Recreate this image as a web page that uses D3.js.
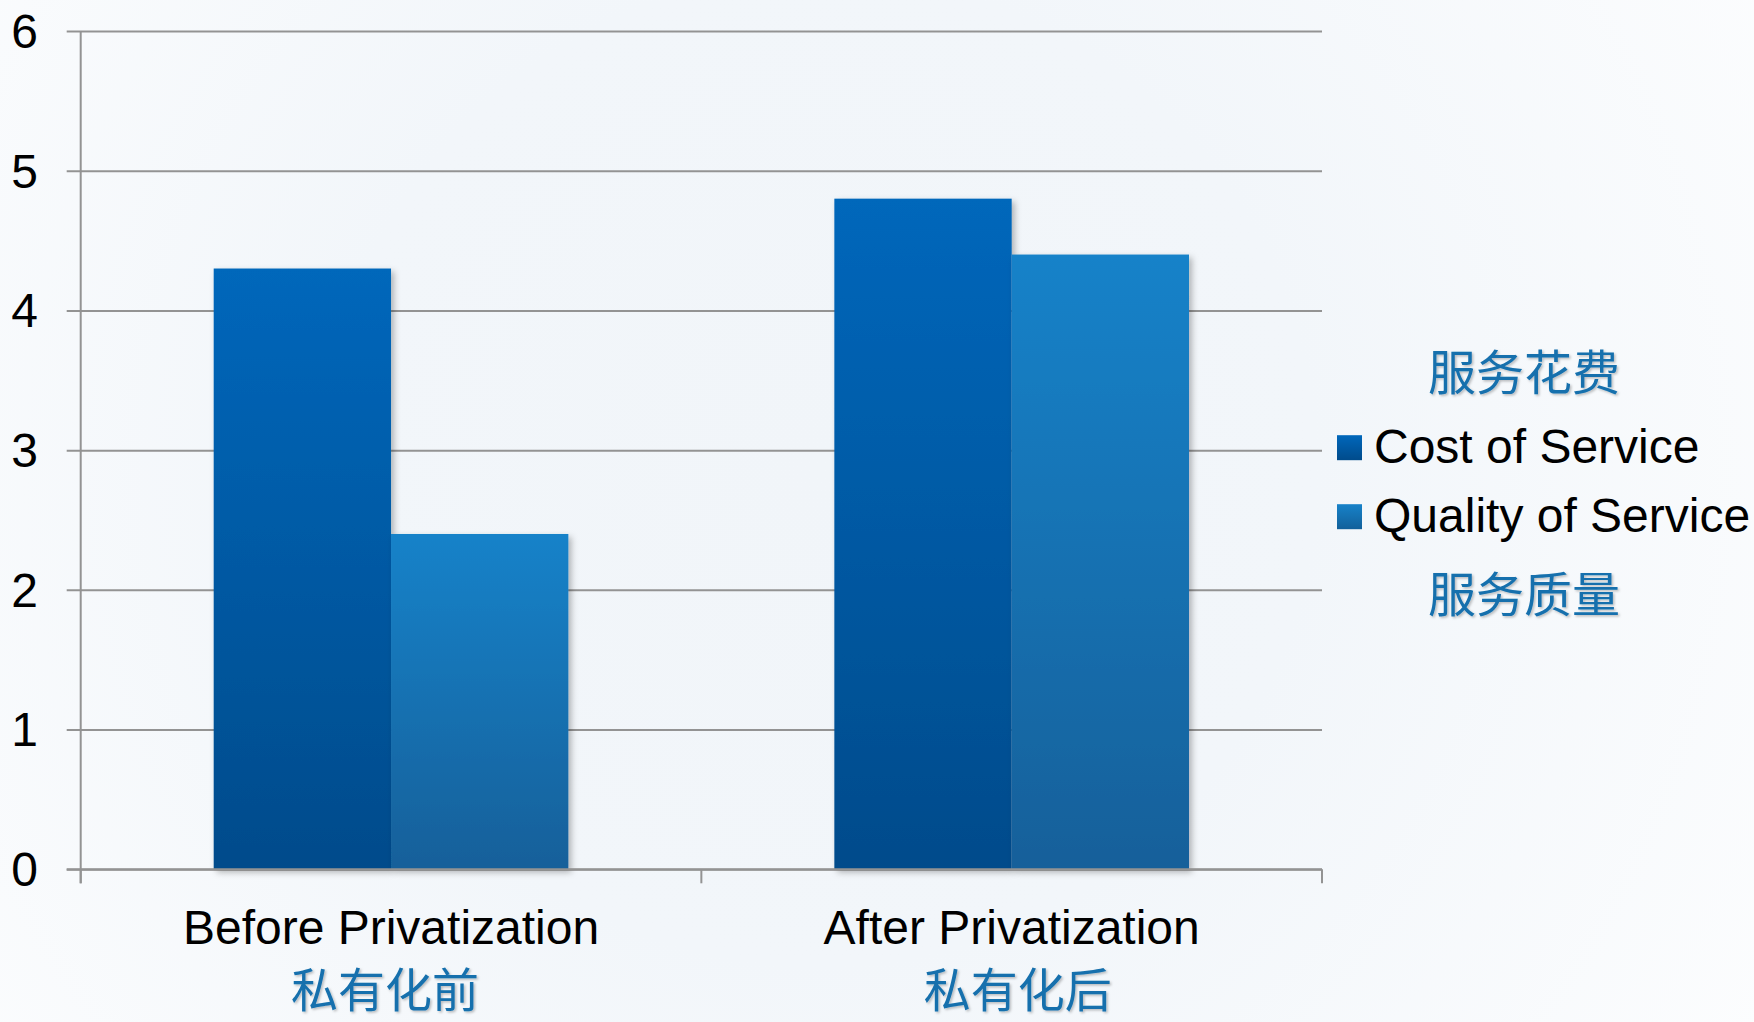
<!DOCTYPE html>
<html>
<head>
<meta charset="utf-8">
<script src="https://cdn.jsdelivr.net/npm/d3@7"></script>
<style>
  html, body { margin: 0; padding: 0; background: #f4f7fa; }
  svg { display: block; }
</style>
</head>
<body>
<svg id="chart" width="1754" height="1022"></svg>
<script>
// Chart data
const categories = ["Before Privatization", "After Privatization"];
const categoriesZh = ["私有化前", "私有化后"];
const seriesNames = ["Cost of Service", "Quality of Service"];
const seriesNamesZh = ["服务花费", "服务质量"];
const costValues = [4.3, 4.8];
const qualityValues = [2.4, 4.4];
const yTicks = [0, 1, 2, 3, 4, 5, 6];

const W = 1754, H = 1022;
const margin = { left: 80.7, right: 1322, top: 31, bottom: 869.3 };
const latin = "'Liberation Sans', Arial, Helvetica, sans-serif";
const cjk = "'Noto Sans CJK SC', 'Noto Sans CJK TC', sans-serif";
const zhColor = "#1670ad";
const gridColor = "#939393";

const svg = d3.select("#chart");
const defs = svg.append("defs");

// Soft slide background
const bg = defs.append("radialGradient").attr("id", "bg")
  .attr("gradientUnits", "userSpaceOnUse")
  .attr("cx", 820).attr("cy", 470).attr("r", 1100);
bg.append("stop").attr("offset", "0%").attr("stop-color", "#f1f5f9");
bg.append("stop").attr("offset", "45%").attr("stop-color", "#f2f6fa");
bg.append("stop").attr("offset", "100%").attr("stop-color", "#fcfdfe");
svg.append("rect").attr("width", W).attr("height", H).attr("fill", "url(#bg)");

// Vertical gradients for the two series
const gradSpecs = [
  { id: "g0", top: "#0067bb", bottom: "#004b8b" },
  { id: "g1", top: "#1782c9", bottom: "#12609a" }
];
gradSpecs.forEach(g => {
  const lg = defs.append("linearGradient").attr("id", g.id)
    .attr("x1", 0).attr("y1", 0).attr("x2", 0).attr("y2", 1);
  lg.append("stop").attr("offset", "0%").attr("stop-color", g.top);
  lg.append("stop").attr("offset", "100%").attr("stop-color", g.bottom);
});
const barFill = ["url(#g0)", "url(#g1)"];

// Bar drop shadow
const sh = defs.append("filter").attr("id", "shadow")
  .attr("x", "-10%").attr("y", "-10%").attr("width", "130%").attr("height", "130%");
sh.append("feDropShadow").attr("dx", 3).attr("dy", 3).attr("stdDeviation", 3)
  .attr("flood-color", "#000").attr("flood-opacity", 0.28);

// Text shadow for Chinese labels
const ts = defs.append("filter").attr("id", "tshadow")
  .attr("x", "-10%").attr("y", "-20%").attr("width", "130%").attr("height", "150%");
ts.append("feDropShadow").attr("dx", 1.5).attr("dy", 1.5).attr("stdDeviation", 1.2)
  .attr("flood-color", "#000").attr("flood-opacity", 0.25);

// Scales
const y = d3.scaleLinear().domain([0, 6]).range([margin.bottom, margin.top]);
const x0 = d3.scaleBand().domain(categories).range([margin.left, margin.right])
  .paddingInner(0).paddingOuter(0);
// gap width 150% of a bar: group occupies 2 of 3.5 bar widths
const gap = x0.bandwidth() * 0.75 / 3.5;
const x1 = d3.scaleBand().domain(seriesNames).range([gap, x0.bandwidth() - gap]);

// Gridlines + y ticks (axis with long ticks)
const yAxis = d3.axisLeft(y).tickValues(yTicks)
  .tickSize(-(margin.right - margin.left)).tickPadding(0).tickFormat("");
const gy = svg.append("g").attr("transform", `translate(${margin.left},0)`).call(yAxis);
gy.select(".domain").remove();
gy.selectAll(".tick line").attr("stroke", gridColor).attr("stroke-width", 2)
  .attr("x1", -14);

// Bars
const rows = categories.map((c, i) => ({ cat: c, vals: [costValues[i], qualityValues[i]] }));
const groups = svg.append("g").selectAll("g").data(rows).join("g")
  .attr("transform", d => `translate(${x0(d.cat)},0)`);
groups.selectAll("rect")
  .data(d => d.vals.map((v, k) => ({ v, k, s: seriesNames[k] })))
  .join("rect")
  .attr("x", d => x1(d.s))
  .attr("width", x1.bandwidth())
  .attr("y", d => y(d.v))
  .attr("height", d => y(0) - y(d.v))
  .attr("fill", d => barFill[d.k])
  .attr("filter", "url(#shadow)");

// Axis lines drawn over the bars
svg.append("line").attr("x1", margin.left).attr("x2", margin.left)
  .attr("y1", y(6)).attr("y2", y(0) + 14)
  .attr("stroke", gridColor).attr("stroke-width", 2);
svg.append("line").attr("x1", margin.left - 14).attr("x2", margin.right)
  .attr("y1", y(0)).attr("y2", y(0))
  .attr("stroke", gridColor).attr("stroke-width", 2.2);
const xTickPos = [margin.left].concat(categories.map(c => x0(c) + x0.bandwidth()));
svg.append("g").selectAll("line").data(xTickPos).join("line")
  .attr("x1", d => d).attr("x2", d => d)
  .attr("y1", y(0)).attr("y2", y(0) + 14)
  .attr("stroke", gridColor).attr("stroke-width", 2);

// Y tick labels
svg.append("g").selectAll("text").data(yTicks).join("text")
  .attr("x", 38).attr("y", d => y(d))
  .attr("dy", "0.35em")
  .attr("text-anchor", "end")
  .attr("font-family", latin).attr("font-size", 48).attr("fill", "#000")
  .text(d => d);

// Category labels
svg.append("g").selectAll("text").data(categories).join("text")
  .attr("x", d => x0(d) + x0.bandwidth() / 2)
  .attr("y", 944)
  .attr("text-anchor", "middle")
  .attr("font-family", latin).attr("font-size", 48).attr("fill", "#000")
  .text(d => d);

svg.append("g").selectAll("text").data(categoriesZh).join("text")
  .attr("x", (d, i) => x0(categories[i]) + x0.bandwidth() / 2 + (i === 0 ? -6 : 6))
  .attr("y", 1007)
  .attr("text-anchor", "middle")
  .attr("font-family", cjk).attr("font-size", 47).attr("fill", zhColor)
  .attr("filter", "url(#tshadow)")
  .text(d => d);

// Legend
const legend = svg.append("g");
const legendRows = [462.7, 531.7];
legend.selectAll("rect").data(seriesNames).join("rect")
  .attr("x", 1337).attr("y", (d, i) => legendRows[i] - 27.5)
  .attr("width", 25).attr("height", 25)
  .attr("fill", (d, i) => barFill[i]);
legend.selectAll("text.en").data(seriesNames).join("text")
  .attr("class", "en")
  .attr("x", 1374).attr("y", (d, i) => legendRows[i])
  .attr("font-family", latin).attr("font-size", 48).attr("fill", "#000")
  .text(d => d);
legend.selectAll("text.zh").data(seriesNamesZh).join("text")
  .attr("class", "zh")
  .attr("x", 1524).attr("y", (d, i) => [390, 612][i])
  .attr("text-anchor", "middle")
  .attr("font-family", cjk).attr("font-size", 48).attr("fill", zhColor)
  .attr("filter", "url(#tshadow)")
  .text(d => d);
</script>
</body>
</html>
